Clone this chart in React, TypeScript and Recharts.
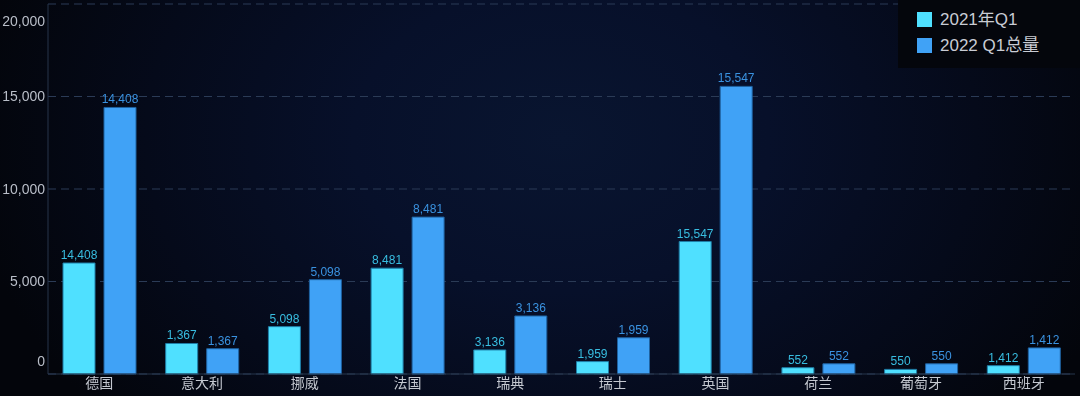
import { Bar, BarChart, CartesianGrid, LabelList, XAxis, YAxis } from 'recharts';

const countries = ['德国', '意大利', '挪威', '法国', '瑞典', '瑞士', '英国', '荷兰', '葡萄牙', '西班牙'];
// bar heights of the 2021 series
const q1of2021 = [6000, 1650, 2560, 5720, 1300, 670, 7160, 340, 250, 450];
// texts printed above the 2021 bars
const labels2021 = [14408, 1367, 5098, 8481, 3136, 1959, 15547, 552, 550, 1412];
const q1of2022 = [14408, 1367, 5098, 8481, 3136, 1959, 15547, 552, 550, 1412];
const yTicks = [0, 5000, 10000, 15000, 20000];

const series = [
  { key: 'v2021', name: '2021年Q1', color: '#4fe0ff' },
  { key: 'v2022', name: '2022 Q1总量', color: '#40a2f6' }
];

const rows = countries.map((name, i) => ({
  name,
  v2021: q1of2021[i],
  l2021: labels2021[i],
  v2022: q1of2022[i]
}));

const FONT = '"Liberation Sans", "Noto Sans CJK SC", sans-serif';
const fmt = (v: number) => Number(v).toLocaleString('en-US');

function YTick(props: any) {
  const { x, y, payload } = props;
  const v = payload.value;
  const shift = v === 0 ? -13 : v === 20000 ? 12 : 0;
  return (
    <text x={x} y={y + shift} dy="0.35em" textAnchor="end" fill="#b9bec8" fontSize={14} fontFamily={FONT}>
      {fmt(v)}
    </text>
  );
}

function LegendBox() {
  return (
    <div
      style={{
        position: 'absolute',
        top: 0,
        right: 0,
        background: '#04060c',
        width: 182,
        height: 68,
        paddingTop: 6,
        paddingLeft: 19,
        boxSizing: 'border-box'
      }}
    >
      {series.map((s) => (
        <div key={s.key} style={{ display: 'flex', alignItems: 'center', height: 26 }}>
          <span style={{ width: 15, height: 15, background: s.color, display: 'inline-block', marginRight: 8 }} />
          <span style={{ color: '#c9ccd4', fontSize: 17, fontFamily: FONT, lineHeight: '17px' }}>{s.name}</span>
        </div>
      ))}
    </div>
  );
}

export default function App() {
  return (
    <div
      style={{
        position: 'fixed',
        left: 0,
        top: 0,
        width: 1080,
        height: 396,
        background:
          'radial-gradient(ellipse 55% 110% at 52% 35%, #091530 0%, #07102a 35%, #050a1a 70%, #03050b 100%)',
        fontFamily: FONT
      }}
    >
      <BarChart width={1080} height={396} data={rows} margin={{ top: 4, right: 5, bottom: 0, left: 0 }} barGap={9}>
        <CartesianGrid vertical={false} stroke="#2b3b56" strokeDasharray="8 5" />
        <XAxis
          dataKey="name"
          height={22}
          tickLine={false}
          tickSize={0}
          tickMargin={4}
          axisLine={{ stroke: '#27364c' }}
          tick={{ fill: '#c4c8d0', fontSize: 14, fontFamily: FONT }}
          interval={0}
        />
        <YAxis
          width={48}
          domain={[0, 20000]}
          ticks={yTicks}
          tickLine={false}
          tickSize={0}
          tickMargin={3}
          axisLine={{ stroke: '#27344a' }}
          tick={<YTick />}
        />
        <Bar
          dataKey="v2021"
          name={series[0].name}
          fill={series[0].color}
          stroke="#1f7fa8"
          strokeWidth={1}
          barSize={32}
          isAnimationActive={false}
        >
          <LabelList dataKey="l2021" position="top" offset={4} fill="#38bde0" fontSize={12} fontFamily={FONT} formatter={fmt} />
        </Bar>
        <Bar
          dataKey="v2022"
          name={series[1].name}
          fill={series[1].color}
          stroke="#1f62a0"
          strokeWidth={1}
          barSize={32}
          isAnimationActive={false}
        >
          <LabelList dataKey="v2022" position="top" offset={4} fill="#3a92e0" fontSize={12} fontFamily={FONT} formatter={fmt} />
        </Bar>
      </BarChart>
      <LegendBox />
    </div>
  );
}
